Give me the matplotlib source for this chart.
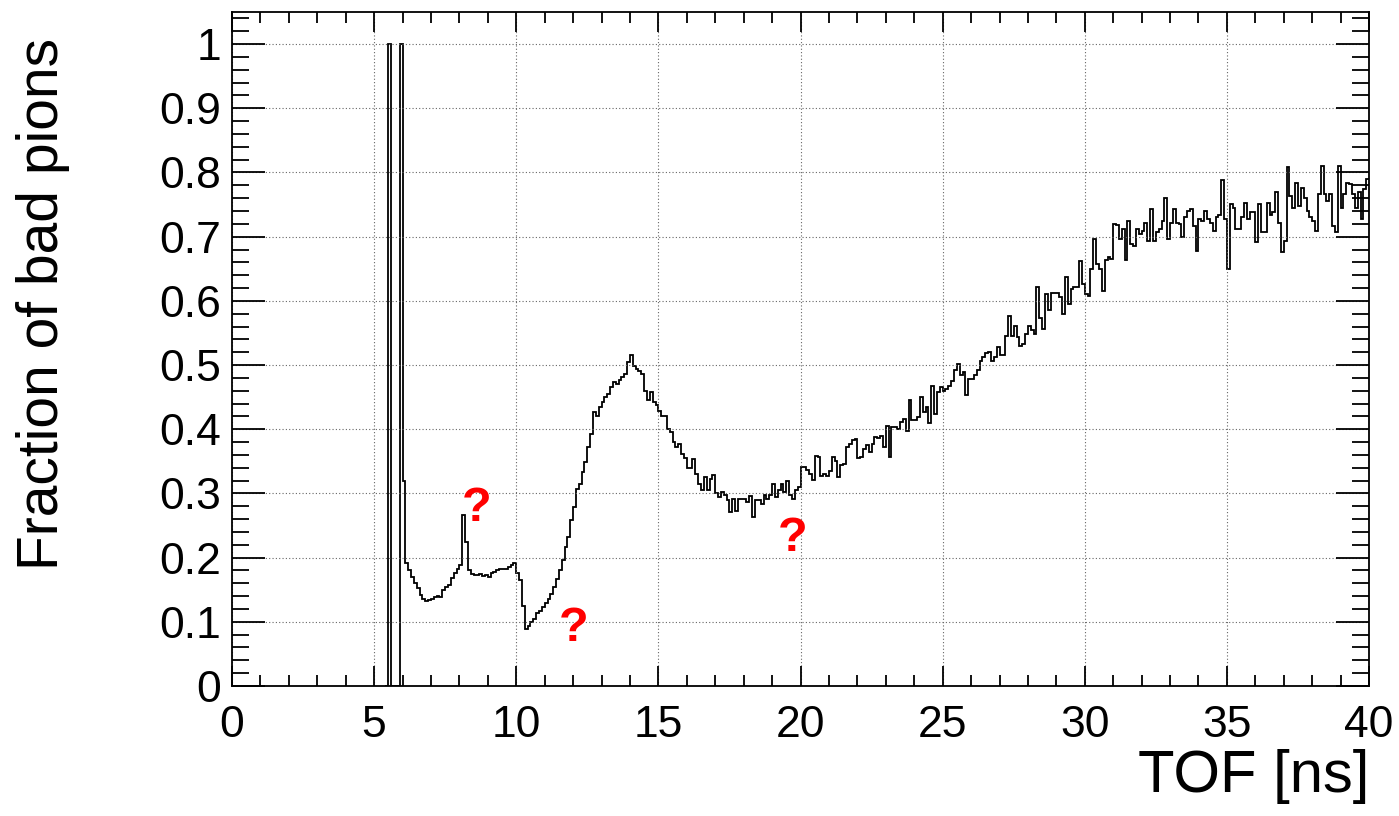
import numpy as np
import matplotlib.pyplot as plt
from matplotlib.ticker import MultipleLocator, FuncFormatter

plt.rcParams["font.family"] = ["Liberation Sans", "DejaVu Sans"]

# TOF histogram: 0.1 ns bins starting at 5.4 ns
tof_start = 5.4
bin_width = 0.1

frac_05_06 = [0.0, 1.0, 0.0, 0.0, 0.0, 1.0, 0.32]

frac_06_10 = [0.191, 0.180, 0.170, 0.160, 0.152, 0.142, 0.136, 0.133, 0.134,
              0.136, 0.139, 0.140, 0.139, 0.150, 0.155, 0.158, 0.168, 0.176, 0.182,
              0.188, 0.266, 0.224, 0.181, 0.175, 0.173, 0.173, 0.175, 0.172, 0.173,
              0.170, 0.176, 0.178, 0.181, 0.182, 0.182, 0.183, 0.186, 0.188, 0.191,
              0.176]

frac_10_15 = [0.165, 0.125, 0.089, 0.093, 0.099, 0.105, 0.113, 0.117, 0.123,
              0.129, 0.136, 0.144, 0.154, 0.167, 0.181, 0.196, 0.217, 0.232, 0.258,
              0.279, 0.307, 0.315, 0.333, 0.349, 0.372, 0.393, 0.427, 0.420, 0.434,
              0.442, 0.450, 0.455, 0.466, 0.473, 0.471, 0.476, 0.481, 0.486, 0.504,
              0.515, 0.499, 0.494, 0.491, 0.486, 0.460, 0.445, 0.458, 0.442, 0.437,
              0.429]

frac_15_20 = [0.421, 0.420, 0.401, 0.395, 0.380, 0.373, 0.377, 0.362, 0.355,
              0.339, 0.339, 0.354, 0.330, 0.315, 0.305, 0.325, 0.305, 0.323, 0.328,
              0.300, 0.294, 0.302, 0.297, 0.289, 0.271, 0.292, 0.272, 0.292, 0.292,
              0.291, 0.286, 0.296, 0.263, 0.290, 0.289, 0.284, 0.297, 0.291, 0.297,
              0.315, 0.294, 0.305, 0.315, 0.302, 0.320, 0.297, 0.292, 0.305, 0.310,
              0.341]

frac_20_25 = [0.341, 0.336, 0.331, 0.321, 0.359, 0.357, 0.327, 0.330, 0.327,
              0.335, 0.357, 0.351, 0.326, 0.344, 0.346, 0.372, 0.377, 0.383, 0.385,
              0.355, 0.357, 0.370, 0.375, 0.364, 0.377, 0.388, 0.386, 0.390, 0.372,
              0.405, 0.357, 0.403, 0.403, 0.401, 0.411, 0.416, 0.398, 0.445, 0.414,
              0.414, 0.419, 0.450, 0.427, 0.434, 0.409, 0.468, 0.424, 0.458, 0.466,
              0.460]

frac_25_30 = [0.463, 0.468, 0.475, 0.492, 0.501, 0.484, 0.489, 0.453, 0.479,
              0.479, 0.484, 0.492, 0.506, 0.512, 0.518, 0.520, 0.507, 0.512, 0.528,
              0.515, 0.515, 0.546, 0.577, 0.546, 0.561, 0.543, 0.530, 0.533, 0.549,
              0.561, 0.554, 0.549, 0.621, 0.574, 0.556, 0.611, 0.585, 0.613, 0.613,
              0.613, 0.606, 0.580, 0.637, 0.595, 0.618, 0.621, 0.621, 0.662, 0.626,
              0.611]

frac_30_35 = [0.608, 0.650, 0.696, 0.657, 0.650, 0.616, 0.663, 0.668, 0.665,
              0.720, 0.718, 0.696, 0.712, 0.663, 0.725, 0.688, 0.686, 0.712, 0.704,
              0.709, 0.722, 0.694, 0.743, 0.694, 0.707, 0.712, 0.725, 0.761, 0.696,
              0.722, 0.743, 0.722, 0.720, 0.699, 0.730, 0.740, 0.743, 0.717, 0.678,
              0.727, 0.725, 0.740, 0.727, 0.722, 0.709, 0.730, 0.733, 0.789, 0.727,
              0.650]

frac_35_40 = [0.751, 0.745, 0.712, 0.712, 0.730, 0.753, 0.727, 0.738, 0.738,
              0.691, 0.751, 0.707, 0.707, 0.753, 0.733, 0.738, 0.769, 0.722, 0.676,
              0.694, 0.808, 0.764, 0.745, 0.784, 0.748, 0.776, 0.761, 0.740, 0.730,
              0.725, 0.709, 0.766, 0.810, 0.766, 0.756, 0.766, 0.717, 0.707, 0.810,
              0.745, 0.766, 0.784, 0.782, 0.766, 0.745, 0.770, 0.728, 0.775, 0.790]

# red question marks: (x, y) in data coordinates
qmark_x = [8.62, 12.03, 19.73]
qmark_y = [0.277, 0.090, 0.230]

frac = np.array(frac_05_06 + frac_06_10 + frac_10_15 + frac_15_20 +
                frac_20_25 + frac_25_30 + frac_30_35 + frac_35_40)
edges = tof_start + bin_width * np.arange(len(frac) + 1)

fig = plt.figure(figsize=(13.99, 8.16), dpi=100)
ax = fig.add_axes([0.1658, 0.1593, 0.8128, 0.826])

ax.stairs(frac, edges, baseline=None, color="black", lw=1.3)

ax.set_xlim(0, 40)
ax.set_ylim(0, 1.05)

ax.xaxis.set_major_locator(MultipleLocator(5))
ax.xaxis.set_minor_locator(MultipleLocator(1))
ax.yaxis.set_major_locator(MultipleLocator(0.1))
ax.yaxis.set_minor_locator(MultipleLocator(0.02))
ax.yaxis.set_major_formatter(FuncFormatter(lambda v, p: "%g" % round(v, 2)))
ax.xaxis.set_major_formatter(FuncFormatter(lambda v, p: "%g" % v))

ax.grid(True, which="major", linestyle=(0, (1, 2)), color="0.4", lw=0.8)

for s in ax.spines.values():
    s.set_linewidth(1.3)

ax.tick_params(axis="both", which="both", direction="in", top=True, right=True,
               width=1.3, labelsize=32)
ax.tick_params(axis="x", which="major", length=14.5, pad=14)
ax.tick_params(axis="x", which="minor", length=8)
ax.tick_params(axis="y", which="major", length=24, pad=8)
ax.tick_params(axis="y", which="minor", length=12)

ax.set_xlabel("TOF [ns]", fontsize=43, loc="right", labelpad=2)
ax.set_ylabel("Fraction of bad pions", fontsize=41, loc="top")
ax.yaxis.set_label_coords(-0.142, 0.962)

for qx, qy in zip(qmark_x, qmark_y):
    ax.text(qx, qy, "?", color="red", fontsize=35, fontweight="bold",
            ha="center", va="center")

fig.savefig("out.png", dpi=100)
